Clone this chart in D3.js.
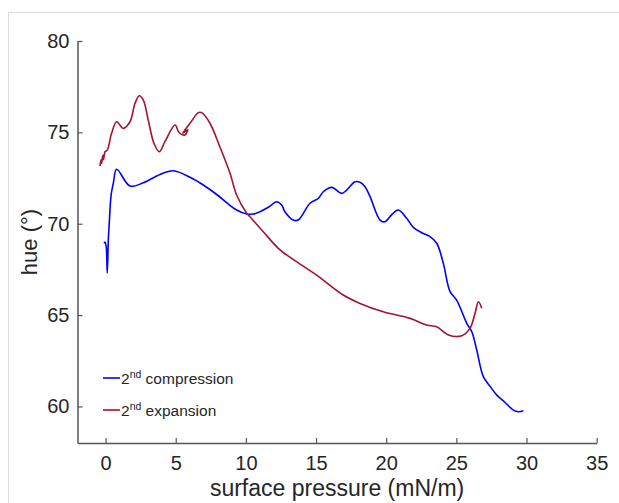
<!DOCTYPE html>
<html>
<head>
<meta charset="utf-8">
<title>hue vs surface pressure</title>
<script src="https://cdn.jsdelivr.net/npm/d3@7"></script>
<style>
  body { margin: 0; background: #fff; }
  text { font-family: "Liberation Sans", Arial, sans-serif; fill: #262626; }
</style>
</head>
<body>
<svg id="svg"></svg>
<script>
var WIDTH = 619, HEIGHT = 503;
var LEFT = 77.5, RIGHT = 596.7, TOP = 41, BOTTOM = 443;

// 2nd compression: surface pressure (mN/m), hue (deg)
var compPressure = [-0.11, -0.04, 0.05, 0.12, 0.2, 0.26, 0.4, 0.55, 0.79, 1.74, 2.69, 3.88, 4.83,
    6.02, 6.96, 7.92, 8.63, 9.34, 10.06, 10.53, 11.0, 11.6, 12.2, 12.55, 12.78, 13.38, 13.73,
    14.57, 15.16, 15.52, 16.12, 16.83, 17.18, 17.78, 18.13, 18.49, 18.85, 19.56, 19.91, 20.4,
    20.86, 21.46, 21.93, 22.53, 23.12, 23.6, 24.07, 24.55, 25.02, 25.74, 26.1, 26.45, 26.92,
    27.4, 27.88, 28.35, 29.06, 29.42, 29.77];
var compHue = [68.93, 69.0, 68.7, 67.3, 69.2, 70.0, 71.6, 72.2, 72.98, 72.06, 72.24, 72.7, 72.9,
    72.54, 72.12, 71.6, 71.15, 70.75, 70.53, 70.53, 70.66, 70.9, 71.2, 71.02, 70.66, 70.2, 70.2,
    71.12, 71.39, 71.75, 71.99, 71.66, 71.84, 72.3, 72.27, 72.03, 71.48, 70.2, 70.11, 70.5,
    70.75, 70.3, 69.8, 69.51, 69.29, 68.93, 67.83, 66.28, 65.82, 64.55, 64.09, 63.09, 61.63,
    61.1, 60.62, 60.31, 59.8, 59.71, 59.77];

// 2nd expansion
var expPressure = [-0.4, -0.32, -0.28, -0.2, -0.15, -0.04, 0.12, 0.43, 0.79, 1.26, 1.74, 2.1,
    2.4, 2.69, 3.04, 3.45, 3.83, 4.23, 4.95, 5.25, 5.66, 5.85, 5.5, 6.02, 6.61, 6.85, 7.44, 8.15,
    8.87, 9.34, 10.06, 10.29, 11.24, 12.31, 12.9, 15.04, 16.94, 18.13, 19.79, 21.7, 22.88, 23.6,
    24.43, 25.38, 25.97, 26.33, 26.57, 26.81];
var expHue = [73.16, 73.5, 73.3, 73.75, 73.5, 73.94, 74.03, 74.95, 75.58, 75.22, 75.58, 76.59,
    77.0, 76.77, 75.68, 74.4, 73.94, 74.49, 75.4, 74.98, 74.86, 75.15, 74.95, 75.5, 76.08, 76.08,
    75.5, 74.2, 72.76, 71.57, 70.57, 70.38, 69.56, 68.65, 68.29, 67.19, 66.1, 65.64, 65.18,
    64.82, 64.46, 64.36, 63.91, 63.87, 64.27, 65.1, 65.73, 65.37];

var xTicks = [0, 5, 10, 15, 20, 25, 30, 35];
var yTicks = [60, 65, 70, 75, 80];

var series = [
    {name: "compression", color: "#0000ff", x: compPressure, y: compHue},
    {name: "expansion", color: "#a2142f", x: expPressure, y: expHue}
];

var svg = d3.select("#svg").attr("width", WIDTH).attr("height", HEIGHT);

// light figure frame
svg.append("rect")
   .attr("x", 8.5).attr("y", 12.5)
   .attr("width", 640).attr("height", 520)
   .attr("fill", "none").attr("stroke", "#dcdcdc");

var xScale = d3.scaleLinear().domain([-2, 35]).range([LEFT, RIGHT]);
var yScale = d3.scaleLinear().domain([58, 80]).range([BOTTOM, TOP]);

var xAxis = svg.append("g")
   .attr("transform", "translate(0," + BOTTOM + ")")
   .call(d3.axisBottom(xScale).tickValues(xTicks).tickSizeInner(-5).tickSizeOuter(0).tickPadding(13));
var yAxis = svg.append("g")
   .attr("transform", "translate(" + LEFT + ",0)")
   .call(d3.axisLeft(yScale).tickValues(yTicks).tickSizeInner(-5).tickSizeOuter(0).tickPadding(8));

[xAxis, yAxis].forEach(function(g){
    g.select(".domain").attr("stroke", "#555").attr("stroke-width", 1.5);
    g.selectAll(".tick line").attr("stroke", "#555").attr("stroke-width", 1.2);
    g.selectAll(".tick text").attr("font-size", "20px")
     .attr("font-family", "'Liberation Sans', Arial, sans-serif").attr("fill", "#262626");
});

svg.append("text")
   .attr("x", (LEFT + RIGHT) / 2).attr("y", 496)
   .attr("text-anchor", "middle").attr("font-size", "23px")
   .text("surface pressure (mN/m)");

svg.append("text")
   .attr("transform", "translate(37," + ((TOP + BOTTOM) / 2) + ") rotate(-90)")
   .attr("text-anchor", "middle").attr("font-size", "22px")
   .text("hue (°)");

var line = d3.line()
   .x(function(d){ return xScale(d[0]); })
   .y(function(d){ return yScale(d[1]); })
   .curve(d3.curveCatmullRom.alpha(0.5));

series.forEach(function(s){
    var pts = s.x.map(function(v, i){ return [v, s.y[i]]; });
    svg.append("path")
       .datum(pts)
       .attr("d", line)
       .attr("fill", "none")
       .attr("stroke", s.color)
       .attr("stroke-width", 1.6)
       .attr("stroke-linejoin", "round");
});

// legend
var legend = svg.append("g");
series.forEach(function(s, i){
    var y = 378 + i * 32;
    legend.append("line")
       .attr("x1", 103).attr("x2", 120).attr("y1", y).attr("y2", y)
       .attr("stroke", s.color).attr("stroke-width", 1.6);
    var t = legend.append("text")
       .attr("x", 121).attr("y", y + 6).attr("font-size", "15.5px");
    t.append("tspan").text("2");
    t.append("tspan").attr("dy", -6).attr("font-size", "10.5px").text("nd");
    t.append("tspan").attr("dy", 6).text(" " + s.name);
});
</script>
</body>
</html>
